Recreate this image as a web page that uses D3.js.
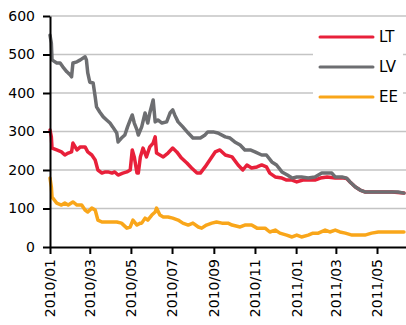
<!DOCTYPE html>
<html><head><meta charset="utf-8">
<script src="https://cdn.jsdelivr.net/npm/d3@7"></script>
<style>body{margin:0;background:#fff}svg{display:block}text{font-family:"DejaVu Sans",sans-serif;fill:#000}</style>
</head><body><svg id="c" width="406" height="325"></svg>
<script>
const seriesNames = ["LT", "LV", "EE"];
const seriesColors = ["#e8203a", "#6d6e71", "#f9a61a"];
const yTicks = [0, 100, 200, 300, 400, 500, 600];
const xTickLabels = ["2010/01","2010/03","2010/05","2010/07","2010/09","2010/11","2011/01","2011/03","2011/05"];

const lvDates = ["2010-01-01","2010-01-03","2010-01-04","2010-01-11","2010-01-16","2010-01-20","2010-01-26","2010-01-31","2010-02-02","2010-02-04","2010-02-10","2010-02-15","2010-02-22","2010-02-24","2010-02-26","2010-03-01","2010-03-06","2010-03-09","2010-03-11","2010-03-16","2010-03-21","2010-03-26","2010-03-31","2010-04-04","2010-04-10","2010-04-12","2010-04-17","2010-04-22","2010-04-26","2010-04-30","2010-05-03","2010-05-06","2010-05-10","2010-05-12","2010-05-17","2010-05-22","2010-05-26","2010-05-29","2010-06-03","2010-06-06","2010-06-10","2010-06-16","2010-06-23","2010-06-28","2010-07-02","2010-07-05","2010-07-10","2010-07-17","2010-07-25","2010-08-01","2010-08-12","2010-08-19","2010-08-23","2010-08-31","2010-09-07","2010-09-18","2010-09-25","2010-10-02","2010-10-10","2010-10-17","2010-10-25","2010-11-01","2010-11-11","2010-11-18","2010-11-26","2010-12-03","2010-12-11","2010-12-19","2010-12-26","2011-01-02","2011-01-09","2011-01-19","2011-01-29","2011-02-08","2011-02-15","2011-02-23","2011-02-28","2011-03-10","2011-03-17","2011-03-22","2011-03-30","2011-04-06","2011-04-13","2011-04-23","2011-05-03","2011-05-13","2011-05-23","2011-06-01","2011-06-10"];
const lvValues = [550,530,486,478,478,468,455,447,442,478,481,486,494,486,452,428,426,390,364,350,338,330,322,312,296,273,283,291,312,330,343,322,304,291,312,348,322,348,382,325,330,322,325,348,356,343,325,312,296,283,283,291,299,299,296,286,283,273,265,252,252,247,239,239,221,213,195,187,179,182,182,179,182,192,192,192,182,182,179,169,156,148,143,143,143,143,143,143,140];

const ltDates = ["2010-01-01","2010-01-03","2010-01-04","2010-01-11","2010-01-18","2010-01-23","2010-01-28","2010-02-02","2010-02-04","2010-02-10","2010-02-15","2010-02-22","2010-02-26","2010-03-04","2010-03-09","2010-03-13","2010-03-19","2010-03-24","2010-03-28","2010-04-03","2010-04-07","2010-04-12","2010-04-19","2010-04-25","2010-04-30","2010-05-03","2010-05-06","2010-05-10","2010-05-12","2010-05-15","2010-05-19","2010-05-24","2010-05-29","2010-06-03","2010-06-06","2010-06-08","2010-06-13","2010-06-18","2010-06-25","2010-07-02","2010-07-08","2010-07-15","2010-07-23","2010-07-30","2010-08-07","2010-08-12","2010-08-19","2010-08-26","2010-09-03","2010-09-10","2010-09-18","2010-09-28","2010-10-07","2010-10-14","2010-10-20","2010-10-27","2010-11-04","2010-11-11","2010-11-18","2010-11-23","2010-12-01","2010-12-11","2010-12-18","2010-12-26","2011-01-02","2011-01-11","2011-01-22","2011-01-29","2011-02-06","2011-02-16","2011-02-28","2011-03-10","2011-03-17","2011-03-22","2011-03-30","2011-04-06","2011-04-13","2011-05-03","2011-05-23","2011-06-10"];
const ltValues = [304,286,257,252,247,239,244,247,270,252,260,260,247,239,226,200,192,195,195,192,195,187,192,195,200,252,234,192,192,234,257,234,260,270,286,244,239,234,244,257,247,231,218,205,192,192,208,226,247,252,239,234,213,200,213,205,208,213,208,192,182,179,174,174,169,174,174,174,179,182,179,180,178,169,156,148,143,143,143,140];

const eeDates = ["2010-01-01","2010-01-03","2010-01-04","2010-01-11","2010-01-18","2010-01-23","2010-01-28","2010-02-04","2010-02-10","2010-02-17","2010-02-22","2010-02-26","2010-03-04","2010-03-09","2010-03-13","2010-03-19","2010-03-26","2010-04-03","2010-04-10","2010-04-17","2010-04-25","2010-04-30","2010-05-04","2010-05-10","2010-05-15","2010-05-17","2010-05-22","2010-05-26","2010-06-01","2010-06-06","2010-06-08","2010-06-13","2010-06-18","2010-06-25","2010-07-02","2010-07-10","2010-07-17","2010-07-25","2010-08-01","2010-08-09","2010-08-14","2010-08-21","2010-08-29","2010-09-05","2010-09-13","2010-09-22","2010-09-28","2010-10-10","2010-10-17","2010-10-27","2010-11-04","2010-11-16","2010-11-23","2010-12-01","2010-12-08","2010-12-18","2010-12-26","2011-01-02","2011-01-09","2011-01-19","2011-01-26","2011-02-03","2011-02-13","2011-02-20","2011-02-28","2011-03-07","2011-03-15","2011-03-25","2011-04-03","2011-04-13","2011-04-23","2011-05-03","2011-05-23","2011-06-10"];
const eeValues = [179,156,130,114,109,114,109,117,109,109,96,91,101,96,70,65,65,65,65,62,49,52,70,57,62,62,75,70,83,91,101,83,78,78,75,70,62,57,62,52,49,57,62,65,62,62,57,52,57,57,49,49,39,44,36,31,26,31,26,31,36,36,44,39,44,39,36,31,31,31,36,39,39,39];

const svg = d3.select("#c");
const parse = d3.timeParse("%Y-%m-%d");
const x = d3.scaleTime().domain([parse("2010-01-01"), parse("2011-06-13")]).range([50, 406]);
const y = d3.scaleLinear().domain([0, 600]).range([247, 16]);

// gridlines
svg.append("g").selectAll("line").data(yTicks.filter(d => d > 0)).join("line")
  .attr("x1", 50).attr("x2", 406).attr("y1", d => y(d)).attr("y2", d => y(d))
  .attr("stroke", "#c4c4c4").attr("stroke-width", 1.5);

// lines
const series = [
  {name: "LT", dates: ltDates, values: ltValues},
  {name: "LV", dates: lvDates, values: lvValues},
  {name: "EE", dates: eeDates, values: eeValues}
];
const line = d3.line().x(d => x(d[0])).y(d => y(d[1]));
series.forEach((s, i) => {
  const pts = s.dates.map((d, j) => [parse(d), s.values[j]]);
  svg.append("path").datum(pts).attr("d", line).attr("fill", "none")
    .attr("stroke", seriesColors[seriesNames.indexOf(s.name)]).attr("stroke-width", 3.5)
    .attr("stroke-linejoin", "round").attr("stroke-linecap", "round");
});

// axes
const yAxis = d3.axisLeft(y).tickValues(yTicks).tickSize(7).tickPadding(8).tickSizeOuter(0);
const gy = svg.append("g").attr("transform", "translate(50,0)").call(yAxis);
gy.select(".domain").attr("stroke", "#000").attr("stroke-width", 2);
gy.selectAll(".tick line").attr("stroke", "#000").attr("stroke-width", 2);
gy.selectAll("text").attr("font-size", 14).attr("font-family", "DejaVu Sans");

const fmt = d3.timeFormat("%Y/%m");
const xTickDates = xTickLabels.map(s => d3.timeParse("%Y/%m")(s));
const xAxis = d3.axisBottom(x).tickValues(xTickDates).tickFormat(fmt).tickSize(7).tickSizeOuter(0);
const gx = svg.append("g").attr("transform", "translate(0,247)").call(xAxis);
gx.select(".domain").attr("stroke", "#000").attr("stroke-width", 2);
gx.selectAll(".tick line").attr("stroke", "#000").attr("stroke-width", 2);
gx.selectAll("text").attr("font-size", 14).attr("font-family", "DejaVu Sans")
  .attr("transform", "rotate(-90)").attr("text-anchor", "end")
  .attr("x", -12).attr("y", 0).attr("dy", "0.35em");

// legend
const lg = svg.append("g");
lg.append("rect").attr("x", 313).attr("y", 22).attr("width", 90).attr("height", 88).attr("fill", "#fff");
seriesNames.forEach((n, i) => {
  const yy = 37 + i * 30;
  lg.append("line").attr("x1", 320).attr("x2", 373).attr("y1", yy).attr("y2", yy)
    .attr("stroke", seriesColors[i]).attr("stroke-width", 3).attr("stroke-linecap", "round");
  lg.append("text").attr("x", 379).attr("y", yy).attr("dy", "0.36em").attr("font-size", 15).text(n);
});
</script></body></html>
